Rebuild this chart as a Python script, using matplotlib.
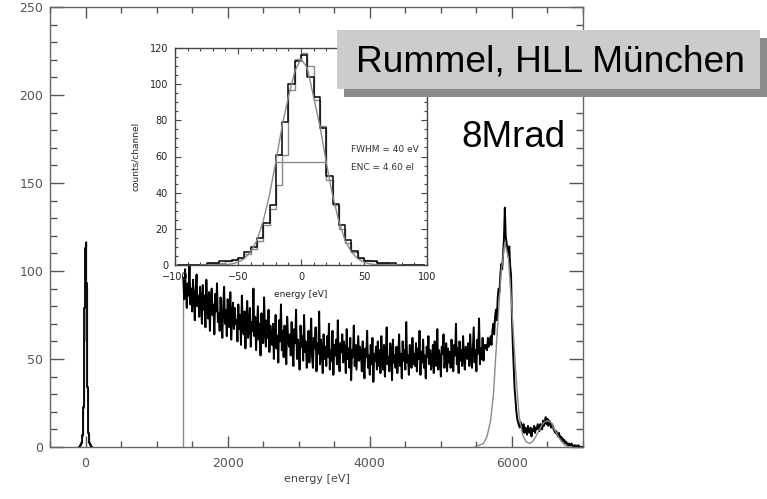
import numpy as np
import matplotlib
matplotlib.use("Agg")
import matplotlib.pyplot as plt
from matplotlib.ticker import MultipleLocator
from matplotlib.patches import Rectangle

# ---------------- data ----------------
# main spectrum: channel grid (eV) and counts per channel
spectrum_start_ev = 1375
spectrum_step_ev = 12.5
spectrum_counts = [
    96, 84, 101, 88, 79, 93, 86, 104, 81, 90, 77, 95, 85, 72, 89, 98, 80, 86, 74, 91,
    83, 70, 92, 78, 86, 68, 95, 79, 73, 88, 66, 84, 90, 75, 81, 64, 87, 77, 93, 71,
    76, 66, 85, 72, 62, 80, 91, 70, 78, 63, 84, 73, 68, 88, 61, 75, 82, 67, 79, 70,
    72, 60, 81, 67, 75, 58, 86, 70, 64, 77, 56, 73, 83, 62, 69, 79, 57, 71, 66, 90,
    63, 74, 55, 68, 80, 61, 70, 52, 76, 64, 59, 85, 66, 57, 72, 62, 78, 54, 69, 60,
    58, 70, 50, 65, 75, 56, 63, 48, 72, 60, 81, 55, 66, 51, 69, 59, 47, 74, 62, 57,
    64, 52, 71, 55, 46, 67, 59, 78, 50, 61, 56, 44, 69, 57, 63, 49, 75, 54, 60, 45,
    52, 66, 48, 58, 73, 51, 45, 62, 56, 68, 43, 59, 53, 77, 47, 61, 55, 42, 64, 50,
    57, 46, 63, 51, 70, 44, 55, 49, 66, 41, 58, 52, 61, 47, 72, 50, 43, 59, 54, 64,
    48, 60, 53, 42, 67, 50, 56, 45, 62, 38, 55, 51, 69, 46, 58, 44, 53, 63, 49, 57,
    54, 43, 60, 48, 39, 56, 51, 66, 45, 52, 41, 58, 47, 62, 37, 53, 49, 57, 44, 60,
    46, 55, 42, 63, 50, 44, 58, 40, 53, 68, 47, 51, 43, 59, 55, 38, 61, 48, 52, 45,
    57, 42, 51, 64, 46, 53, 39, 60, 49, 55, 44, 71, 48, 52, 41, 58, 50, 45, 62, 47,
    53, 46, 59, 43, 56, 50, 66, 41, 54, 48, 61, 45, 52, 39, 57, 51, 63, 47, 55, 44,
    49, 58, 42, 60, 52, 46, 67, 44, 55, 50, 40, 57, 53, 64, 45, 51, 59, 43, 56, 48,
    54, 45, 61, 50, 43, 58, 52, 70, 47, 56, 42, 60, 49, 55, 46, 63, 51, 44, 57, 53,
    50, 59, 46, 64, 52, 45, 57, 68, 48, 55, 43, 61, 53, 73, 47, 56, 50, 62, 49, 58,
    56, 58, 55, 62, 57, 60, 63, 58, 66, 70, 64, 74, 78, 72, 85, 90, 88, 98, 104, 101,
    110, 118, 136, 120, 116, 112, 108, 114, 103, 98, 74, 58, 45, 33, 27, 20, 16, 14, 12, 11,
    14, 12, 9, 13, 8, 11, 10, 7, 12, 9, 8, 11, 6, 10, 9, 12, 8, 11, 10, 13,
    11, 9, 13, 12, 10, 15, 12, 14, 17, 13, 16, 12, 15, 14, 11, 13, 12, 10, 9, 8,
    9, 7, 6, 8, 5, 6, 4, 5, 3, 4, 2, 3, 2, 1, 2, 1, 1, 2, 1, 0,
    1, 0, 1, 0, 0, 1, 0, 0, 0, 0,
]

# threshold edge (gray vertical line) at start of spectrum
threshold_x = [1375, 1375]
threshold_y = [0, 84]

# fit of the Mn K-alpha / K-beta lines (gray curve)
kfit_ev = [5480, 5600, 5650, 5700, 5740, 5770, 5800, 5850, 5900, 5950, 6000,
           6050, 6100, 6150, 6200, 6250, 6300, 6350, 6400, 6450, 6500, 6550,
           6600, 6650, 6700, 6750, 6800]
kfit_counts = [0, 2, 6, 15, 30, 50, 70, 100, 116, 108, 78,
               45, 18, 7, 3, 2, 3.5, 7, 11, 14, 15, 14,
               10, 6, 3, 1, 0]

# noise peak histogram (inset, 5 eV bins), black and gray
noise_bin_centers = [-97.5, -92.5, -87.5, -82.5, -77.5, -72.5, -67.5, -62.5,
                     -57.5, -52.5, -47.5, -42.5, -37.5, -32.5, -27.5, -22.5,
                     -17.5, -12.5, -7.5, -2.5, 2.5, 7.5, 12.5, 17.5, 22.5,
                     27.5, 32.5, 37.5, 42.5, 47.5, 52.5, 57.5, 62.5, 67.5,
                     72.5, 77.5, 82.5, 87.5, 92.5, 97.5]
noise_counts_black = [0, 0, 0, 0, 0, 1, 1, 2, 2, 3, 4, 7, 10, 15, 23, 33,
                      61, 79, 100, 113, 116, 104, 93, 76, 49, 34, 22, 14,
                      8, 4, 2, 2, 1, 1, 1, 0, 0, 0, 0, 0]
noise_counts_gray = [0, 0, 0, 0, 0, 1, 1, 1, 2, 3, 4, 6, 9, 13, 22, 31,
                     44, 61, 97, 114, 117, 110, 91, 77, 47, 33, 20, 12,
                     7, 4, 3, 2, 1, 1, 0, 0, 0, 0, 0, 0]

# gaussian fit of the noise peak (gray smooth curve)
noise_fit_ev = [-80, -70, -60, -55, -50, -45, -40, -35, -30, -25, -20, -15,
                -10, -5, 0, 5, 10, 15, 20, 25, 30, 35, 40, 45, 50, 55, 60,
                70, 80]
noise_fit_counts = [0.0, 0.1, 0.2, 0.6, 1.5, 3.5, 7.2, 13.6, 24.3, 38.8, 57.0,
                    76.8, 93.0, 107.0, 114.0, 109.0, 93.0, 76.8, 57.0, 38.8,
                    24.3, 13.6, 7.2, 3.5, 1.5, 0.6, 0.2, 0.1, 0.0]

# FWHM marker line
fwhm_x = [-20, 20]
fwhm_y = [57, 57]

main_xticks = [0, 2000, 4000, 6000]
main_yticks = [0, 50, 100, 150, 200, 250]
inset_xticks = [-100, -50, 0, 50, 100]
inset_yticks = [0, 20, 40, 60, 80, 100, 120]

# ---------------- figure ----------------
W, H = 767, 499
fig = plt.figure(figsize=(W / 100, H / 100), dpi=100)
plt.rcParams['font.family'] = ['DejaVu Sans']

tick_col = '#555555'
gray = '#8a8a8a'

ax = fig.add_axes([50 / W, 1 - 447 / H, 533 / W, 440 / H])
energies = spectrum_start_ev + spectrum_step_ev * np.arange(len(spectrum_counts))
ax.plot(threshold_x, threshold_y, color=gray, lw=1.0)
ax.plot(energies, spectrum_counts, color='black', lw=1.4)
ax.plot(kfit_ev, kfit_counts, color=gray, lw=1.0)
# noise peak in main plot
ax.step(noise_bin_centers, noise_counts_gray, where='mid', color=gray, lw=1.0)
ax.step(noise_bin_centers, noise_counts_black, where='mid', color='black', lw=1.3)

ax.set_xlim(-500, 7000)
ax.set_ylim(0, 250)
ax.set_xticks(main_xticks)
ax.set_yticks(main_yticks)
ax.xaxis.set_minor_locator(MultipleLocator(500))
ax.yaxis.set_minor_locator(MultipleLocator(10))
ax.tick_params(which='both', direction='in', top=True, right=True,
               colors=tick_col, labelcolor=tick_col, labelsize=9, width=1.0)
ax.tick_params(axis='y', which='major', length=10, pad=5)
ax.tick_params(axis='y', which='minor', length=5)
ax.tick_params(axis='x', which='major', length=8, pad=7)
ax.tick_params(axis='x', which='minor', length=4)
for sp in ax.spines.values():
    sp.set_color('#666666')
    sp.set_linewidth(1.0)
ax.set_xlabel('energy [eV]', fontsize=8, color='#444444', labelpad=3)

# ---------------- inset ----------------
axin = fig.add_axes([175 / W, 1 - 265 / H, 252 / W, 217 / H])
axin.set_facecolor('white')
axin.step(noise_bin_centers, noise_counts_gray, where='mid', color=gray, lw=1.0)
axin.step(noise_bin_centers, noise_counts_black, where='mid', color='black', lw=1.1)
axin.plot(noise_fit_ev, noise_fit_counts, color=gray, lw=1.0)
axin.plot(fwhm_x, fwhm_y, color=gray, lw=1.0)
axin.set_xlim(-100, 100)
axin.set_ylim(0, 120)
axin.set_xticks(inset_xticks)
axin.set_yticks(inset_yticks)
axin.xaxis.set_minor_locator(MultipleLocator(10))
axin.yaxis.set_minor_locator(MultipleLocator(5))
axin.tick_params(which='both', direction='in', top=True, right=True,
                 colors='#444444', labelcolor='#222222', labelsize=7, width=0.8)
axin.tick_params(which='major', length=4, pad=5)
axin.tick_params(which='minor', length=2)
for sp in axin.spines.values():
    sp.set_color('#444444')
    sp.set_linewidth(1.0)
axin.set_xlabel('energy [eV]', fontsize=6.5, color='#222222', labelpad=6)
axin.set_ylabel('counts/channel', fontsize=6.5, color='#222222', labelpad=7)

fig.text(351 / W, 1 - 149 / H, 'FWHM = 40 eV', fontsize=6.5, color='#333333',
         va='center', ha='left', zorder=10)
fig.text(351 / W, 1 - 168 / H, 'ENC = 4.60 el', fontsize=6.5, color='#333333',
         va='center', ha='left', zorder=10)

# ---------------- annotation box ----------------
fig.patches.append(Rectangle((344 / W, 1 - 97 / H), (W - 344) / W, 59 / H,
                             transform=fig.transFigure, facecolor='#8c8c8c',
                             edgecolor='none', zorder=4))
fig.patches.append(Rectangle((337 / W, 1 - 89 / H), 423 / W, 59 / H,
                             transform=fig.transFigure, facecolor='#cccccc',
                             edgecolor='none', zorder=5))
fig.text(356 / W, 1 - 72 / H, 'Rummel, HLL München', fontsize=26.7,
         family='Liberation Sans', color='black', va='baseline', ha='left',
         zorder=6)
fig.text(461 / W, 1 - 147 / H, '8Mrad', fontsize=26.5, family='Liberation Sans',
         color='black', va='baseline', ha='left', zorder=6)

fig.savefig('out.png', dpi=100)
